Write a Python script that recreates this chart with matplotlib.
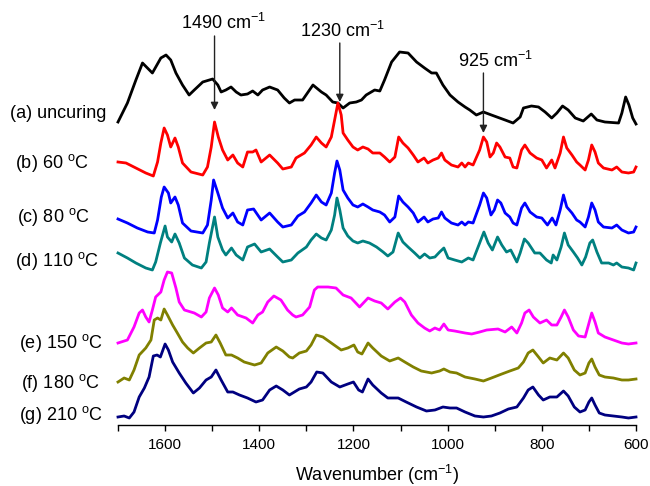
import matplotlib
matplotlib.use("Agg")
import matplotlib.pyplot as plt
from matplotlib.ticker import MultipleLocator

plt.rcParams['font.family'] = ['Liberation Sans', 'DejaVu Sans']
plt.rcParams['mathtext.fontset'] = 'custom'
plt.rcParams['mathtext.rm'] = 'Liberation Sans'
plt.rcParams['mathtext.it'] = 'Liberation Sans:italic'

# ---- data (wavenumber in cm-1, stacked intensity in arbitrary units) ----
a_wn = [1700,1680,1662,1648,1627,1609,1598,1588,1577,1563,1549,1538,1520,1499,1488,1481,1471,1460,1449,1439,
        1425,1414,1403,1393,1378,1361,1347,1336,1325,1318,1308,1286,1268,1258,1244,1233,1222,1208,1194,1183,
        1173,1155,1144,1134,1119,1102,1084,1066,1049,1034,1024,1010,995,978,963,953,939,924,907,878,
        861,846,839,822,807,793,779,768,756,744,729,712,695,683,666,637,630,622,615,607,600]
a_h = [303,322,345,362,352,367,370,365,352,340,330,335,343,346,340,333,335,338,333,330,
       331,334,330,335,338,335,327,322,325,325,325,340,333,330,323,322,317,322,323,325,
       330,335,334,345,363,373,372,363,357,352,352,340,330,323,318,315,310,313,310,305,
       302,308,317,319,318,313,307,312,319,315,307,304,311,305,303,302,312,328,320,307,301]

b_wn = [1700,1683,1662,1641,1625,1616,1609,1602,1595,1588,1579,1572,1563,1545,1520,1510,1502,1495,1487,1478,
        1467,1456,1446,1435,1425,1414,1407,1396,1378,1361,1350,1332,1322,1304,1290,1279,1268,1258,1247,1240,
        1233,1226,1222,1212,1201,1191,1180,1169,1159,1144,1134,1123,1112,1104,1095,1084,1073,1063,1050,1042,
        1031,1020,1013,1006,992,978,970,963,956,946,932,924,917,910,903,896,889,878,868,861,
        853,843,836,825,811,800,790,779,772,761,754,747,736,726,719,708,701,694,687,680,
        669,651,641,630,616,605,600]
b_h = [263,262,257,252,249,263,282,297,290,278,287,278,262,253,250,258,278,303,288,275,
       265,270,262,258,273,273,275,263,270,262,256,258,267,272,280,288,282,278,288,305,
       322,310,292,285,278,275,278,276,272,272,268,263,268,288,282,277,270,263,267,262,
       265,267,272,265,260,258,262,258,262,260,275,288,283,268,272,282,278,268,267,258,
       257,275,280,272,267,265,257,265,257,272,288,277,270,263,260,255,265,280,273,262,
       257,255,258,253,252,253,258]

c_wn = [1700,1680,1659,1637,1623,1616,1608,1602,1593,1588,1579,1572,1563,1545,1520,1510,1502,1497,1488,1478,
        1467,1456,1446,1435,1425,1412,1396,1378,1361,1350,1332,1318,1304,1290,1279,1268,1258,1247,1240,1235,
        1229,1222,1212,1201,1191,1180,1169,1159,1144,1134,1123,1112,1104,1095,1084,1073,1063,1050,1042,1031,
        1020,1013,1006,992,978,970,963,956,946,932,924,917,908,901,894,887,878,868,861,853,
        843,836,825,811,800,788,778,770,761,754,747,736,726,719,708,701,694,687,680,669,
        651,641,630,616,605,600]
c_h = [206,202,197,193,192,205,228,238,232,222,228,220,202,194,192,200,225,245,232,217,
       207,212,203,200,215,216,205,212,203,198,200,209,213,222,230,223,220,232,252,264,
       255,235,227,220,218,221,218,215,213,210,203,208,229,223,218,212,203,208,203,206,
       207,213,207,202,200,203,200,203,202,220,232,227,210,215,225,222,212,208,202,200,
       217,222,213,208,207,200,207,200,215,230,218,212,205,203,198,208,222,215,203,198,
       197,200,195,192,193,198]

d_wn = [1700,1680,1662,1641,1627,1620,1610,1600,1595,1586,1579,1570,1559,1542,1523,1513,1506,1495,1488,1478,
        1471,1459,1449,1435,1425,1410,1396,1378,1361,1350,1332,1318,1300,1290,1279,1268,1258,1247,1240,1235,
        1229,1222,1212,1201,1191,1180,1166,1151,1137,1127,1116,1105,1095,1084,1070,1059,1049,1038,1027,1017,
        1008,999,985,970,963,956,946,932,923,914,905,894,885,875,866,853,846,837,829,815,
        804,790,780,776,768,759,752,744,733,724,715,707,698,692,683,673,658,648,641,630,
        616,605,600]
d_h = [172,167,162,157,155,163,182,199,188,183,191,182,167,160,157,163,182,208,188,175,
       170,177,170,165,178,181,173,176,168,163,165,172,178,185,191,187,185,195,210,227,
       215,197,189,184,182,184,182,178,173,169,173,192,183,178,172,167,171,167,168,173,
       177,167,165,163,165,167,165,182,193,182,175,188,180,173,175,163,172,186,182,172,
       172,165,162,170,165,178,192,180,173,167,160,168,182,185,173,162,162,160,162,158,
       157,155,162]

e_wn = [1700,1680,1666,1655,1648,1641,1634,1627,1620,1609,1602,1595,1586,1577,1570,1559,1538,1523,1513,1506,
        1495,1487,1478,1467,1459,1446,1428,1414,1403,1393,1382,1369,1354,1340,1329,1322,1308,1293,1283,1276,
        1254,1237,1222,1205,1187,1169,1155,1141,1127,1112,1100,1091,1077,1063,1049,1038,1027,1017,1008,999,
        985,963,949,932,917,893,878,864,853,843,836,827,818,804,790,779,768,759,752,744,
        733,722,708,701,694,687,680,666,648,630,616,600]
e_h = [82,85,98,112,115,108,103,115,128,133,145,153,152,137,123,115,112,108,113,127,
       137,130,117,113,117,110,107,102,110,113,123,129,125,115,110,108,110,118,135,138,
       138,137,130,127,118,127,124,122,116,123,127,123,110,102,97,94,97,95,101,95,
       94,92,91,93,95,96,93,98,92,102,112,115,108,102,105,100,100,108,115,108,
       95,89,88,100,112,103,92,88,85,82,81,82]

f_wn = [1700,1687,1676,1666,1655,1641,1630,1623,1616,1609,1602,1595,1584,1574,1563,1552,1540,1527,1513,1502,
        1492,1483,1471,1459,1446,1432,1410,1396,1382,1364,1350,1336,1329,1315,1300,1290,1279,1265,1247,1226,
        1212,1199,1191,1182,1169,1159,1141,1123,1105,1091,1073,1056,1034,1017,1008,995,981,963,942,924,
        907,885,868,850,839,829,819,807,797,783,768,754,744,731,719,708,700,694,687,678,
        666,648,630,616,600]
f_h = [43,47,45,55,70,77,85,105,107,105,116,110,100,92,83,77,72,77,82,83,
       90,82,70,70,67,63,60,62,72,78,74,68,67,72,74,80,90,88,82,75,
       77,80,73,71,82,77,69,64,67,63,58,54,52,54,56,53,52,48,46,44,
       47,51,54,57,63,72,75,68,62,67,65,72,67,55,50,52,62,66,58,50,
       48,47,45,45,46]

g_wn = [1700,1687,1676,1666,1655,1644,1634,1625,1617,1610,1600,1593,1584,1570,1556,1540,1527,1513,1502,1492,
        1481,1467,1456,1442,1425,1407,1393,1378,1364,1350,1336,1315,1300,1290,1278,1265,1247,1229,1212,1200,
        1189,1181,1169,1159,1141,1127,1105,1088,1066,1045,1027,1010,995,981,963,942,924,907,889,871,
        853,839,829,819,807,797,783,768,754,744,731,719,708,700,694,687,678,666,648,630,
        616,600]
g_h = [8,9,7,13,28,37,48,69,70,68,81,75,63,52,42,32,37,45,48,55,
       45,33,33,30,27,23,25,35,39,35,30,36,38,43,53,52,43,38,41,43,
       35,33,46,40,32,27,27,23,18,14,15,18,17,17,13,9,8,9,12,16,
       18,27,35,38,30,25,28,28,34,29,18,13,15,23,27,20,12,10,9,8,
       7,8]

series_labels = ['(a) uncuring', '(b) 60 $^{\\mathregular{o}}$C', '(c) 80 $^{\\mathregular{o}}$C',
                 '(d) 110 $^{\\mathregular{o}}$C', '(e) 150 $^{\\mathregular{o}}$C',
                 '(f) 180 $^{\\mathregular{o}}$C', '(g) 210 $^{\\mathregular{o}}$C']
series_colors = ['#000000', '#ff0000', '#0000ff', '#008080', '#ff00ff', '#808000', '#000080']
series = [(a_wn, a_h), (b_wn, b_h), (c_wn, c_h), (d_wn, d_h), (e_wn, e_h), (f_wn, f_h), (g_wn, g_h)]

peak_wn = [1495, 1229, 924]
peak_text = ['1490 cm$^{\\mathregular{-1}}$', '1230 cm$^{\\mathregular{-1}}$', '925 cm$^{\\mathregular{-1}}$']
arrow_tail = [389, 382, 352]
arrow_tip = [315, 323, 292]
text_x = [1475, 1223, 899]
text_y = [396, 388, 358]

# label anchor positions (pixels in figure)
label_px = [(10, 118), (15, 168), (17, 222), (15, 266), (19, 348), (21, 388), (19, 420)]

W, H = 650, 486
fig = plt.figure(figsize=(W / 100, H / 100), dpi=100)
ax = fig.add_axes([118 / W, 61 / H, (636 - 118) / W, 425 / H])

for (wn, h), col in zip(series, series_colors):
    ax.plot(wn, h, color=col, lw=2.0, solid_joinstyle='round', clip_on=False)

for px, lab in zip(label_px, series_labels):
    fig.text(px[0] / W, 1 - px[1] / H, lab, fontsize=13, ha='left', va='baseline')

for x, t0, t1, tx, ty, txt in zip(peak_wn, arrow_tail, arrow_tip, text_x, text_y, peak_text):
    ax.annotate('', xy=(x, t1), xytext=(x, t0),
                arrowprops=dict(arrowstyle='-|>', color='#222222', lw=1.0,
                                mutation_scale=11, shrinkA=0, shrinkB=0))
    ax.text(tx, ty, txt, fontsize=13, ha='center', va='baseline')

ax.set_xlim(1700, 600)
ax.set_ylim(0, 425)
for s in ['left', 'right', 'top']:
    ax.spines[s].set_visible(False)
ax.spines['bottom'].set_linewidth(1.0)
ax.set_yticks([])
ax.xaxis.set_major_locator(MultipleLocator(200))
ax.xaxis.set_minor_locator(MultipleLocator(100))
ax.tick_params(axis='x', which='both', direction='out', length=4, width=1.0, labelsize=11, pad=5)
ax.set_xlabel('Wavenumber (cm$^{\\mathregular{-1}}$)', fontsize=13, labelpad=8)

fig.savefig('out.png', dpi=100)
